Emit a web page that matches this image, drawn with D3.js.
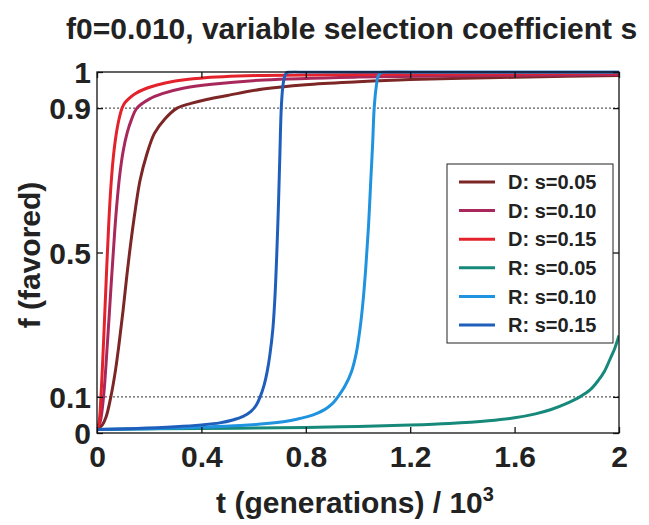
<!DOCTYPE html>
<html>
<head>
	<meta charset="utf-8" />
	<title>f0=0.010, variable selection coefficient s</title>
	<script src="https://cdn.jsdelivr.net/npm/d3@7/dist/d3.min.js"></script>
	<style>
		html, body { margin: 0; background: #fff; overflow: hidden; }
		svg text { font-family: "Liberation Sans", Arial, sans-serif; font-weight: bold; fill: #222; }
	</style>
</head>
<body>
<div id="chart"></div>
<script>
// t in units of 10^3 generations, f = frequency of favored allele
var dom05 = [[0,0.01],[0.02,0.022],[0.035,0.045],[0.053,0.1],[0.07,0.17],[0.085,0.25],[0.1,0.34],[0.115,0.44],[0.13,0.53],[0.147,0.62],[0.165,0.7],[0.19,0.77],[0.22,0.83],[0.26,0.87],[0.307,0.9],[0.36,0.913],[0.42,0.924],[0.5,0.935],[0.636,0.953],[0.8,0.965],[1.0,0.973],[1.2,0.979],[1.5,0.984],[1.8,0.988],[2.0,0.99]];
var dom10 = [[0,0.01],[0.012,0.03],[0.025,0.1],[0.04,0.25],[0.055,0.42],[0.068,0.56],[0.078,0.65],[0.088,0.72],[0.1,0.78],[0.115,0.83],[0.132,0.868],[0.153,0.9],[0.2,0.925],[0.25,0.94],[0.33,0.955],[0.44,0.966],[0.64,0.978],[1.0,0.986],[1.5,0.99],[2.0,0.993]];
var dom15 = [[0,0.01],[0.008,0.03],[0.015,0.1],[0.025,0.25],[0.035,0.42],[0.045,0.58],[0.053,0.68],[0.062,0.76],[0.072,0.82],[0.083,0.865],[0.096,0.9],[0.107,0.915],[0.12,0.925],[0.146,0.94],[0.19,0.955],[0.23,0.964],[0.3,0.975],[0.395,0.983],[0.61,0.99],[1.0,0.993],[1.5,0.995],[2.0,0.997]];
var rec05 = [[0,0.01],[0.4,0.0125],[0.8,0.0155],[1.0,0.018],[1.2,0.022],[1.35,0.0265],[1.5,0.034],[1.6,0.042],[1.68,0.053],[1.74,0.065],[1.8,0.082],[1.85,0.1],[1.89,0.12],[1.92,0.145],[1.945,0.172],[1.966,0.205],[1.984,0.235],[2.0,0.27]];
var rec10 = [[0,0.01],[0.2,0.012],[0.4,0.016],[0.55,0.0205],[0.65,0.026],[0.72,0.032],[0.77,0.039],[0.81,0.046],[0.845,0.055],[0.87,0.064],[0.89,0.074],[0.907,0.085],[0.923,0.1],[0.95,0.13],[0.975,0.17],[0.993,0.22],[1.008,0.29],[1.02,0.37],[1.03,0.46],[1.04,0.57],[1.049,0.7],[1.056,0.8],[1.062,0.9],[1.07,0.96],[1.078,0.99],[1.088,0.998],[1.1,1],[1.2,1],[1.5,1],[2,1]];
var rec15 = [[0,0.01],[0.15,0.0127],[0.3,0.0175],[0.4,0.0225],[0.47,0.028],[0.52,0.036],[0.56,0.046],[0.59,0.06],[0.61,0.077],[0.625,0.1],[0.64,0.132],[0.652,0.17],[0.663,0.22],[0.674,0.29],[0.682,0.38],[0.689,0.5],[0.696,0.65],[0.701,0.78],[0.706,0.9],[0.712,0.96],[0.718,0.985],[0.726,0.998],[0.74,1],[0.8,1],[1.0,1],[2,1]];

var labels = ["D: s=0.05", "D: s=0.10", "D: s=0.15", "R: s=0.05", "R: s=0.10", "R: s=0.15"];
var colors = ["#7d2626", "#a8285c", "#e3222b", "#17897a", "#1f93df", "#1f5fbb"];
var xTicks = [0, 0.4, 0.8, 1.2, 1.6, 2];
var yTicks = [0, 0.1, 0.5, 0.9, 1];
var gridLevels = [0.1, 0.9];

var series = [dom05, dom10, dom15, rec05, rec10, rec15];

var W = 649, H = 525;
var pL = 97, pR = 619, pT = 72, pB = 433;

var svg = d3.select("#chart").append("svg").attr("width", W).attr("height", H);

var x = d3.scaleLinear().domain([0, 2]).range([pL, pR]);
var y = d3.scaleLinear().domain([0, 1]).range([pB, pT]);

svg.append("clipPath").attr("id", "plotclip").append("rect")
	.attr("x", pL).attr("y", pT - 1.5).attr("width", pR - pL).attr("height", pB - pT + 3);

// title
svg.append("text").attr("x", 66).attr("y", 39).style("font-size", "30px")
	.text("f0=0.010, variable selection coefficient s");

// dotted reference lines
svg.selectAll(".grid").data(gridLevels).enter().append("line")
	.attr("x1", pL).attr("x2", pR)
	.attr("y1", d => y(d)).attr("y2", d => y(d))
	.attr("stroke", "#333").attr("stroke-width", 1).attr("stroke-dasharray", "2,2");

// curves
var line = d3.line().x(d => x(d[0])).y(d => y(d[1])).curve(d3.curveCatmullRom.alpha(0.5));
svg.append("g").attr("clip-path", "url(#plotclip)")
	.selectAll(".curve").data(series).enter().append("path")
	.attr("d", line)
	.attr("fill", "none")
	.attr("stroke", (d, i) => colors[i])
	.attr("stroke-width", 3)
	.attr("stroke-linejoin", "round");

// box + inner ticks (matlab style, mirrored)
svg.append("rect").attr("x", pL).attr("y", pT).attr("width", pR - pL).attr("height", pB - pT)
	.attr("fill", "none").attr("stroke", "#111").attr("stroke-width", 1.3);

var tl = 6;
var xb = svg.append("g").attr("transform", "translate(0," + pB + ")")
	.call(d3.axisBottom(x).tickValues(xTicks).tickSize(-tl).tickFormat(d3.format("")).tickPadding(12));
var xt = svg.append("g").attr("transform", "translate(0," + pT + ")")
	.call(d3.axisTop(x).tickValues(xTicks).tickSize(-tl).tickFormat(""));
var yl = svg.append("g").attr("transform", "translate(" + pL + ",0)")
	.call(d3.axisLeft(y).tickValues(yTicks).tickSize(-tl).tickFormat(d3.format("")).tickPadding(6));
var yr = svg.append("g").attr("transform", "translate(" + pR + ",0)")
	.call(d3.axisRight(y).tickValues(yTicks).tickSize(-tl).tickFormat(""));

[xb, xt, yl, yr].forEach(function (g) {
	g.select(".domain").remove();
	g.selectAll("line").attr("stroke", "#111").attr("stroke-width", 1.3);
	g.selectAll("text").style("font-size", "30px").style("font-family", "'Liberation Sans', Arial, sans-serif")
		.style("font-weight", "bold").attr("fill", "#222");
});
xb.selectAll("text").attr("dy", "0.72em");
yl.selectAll("text").attr("dy", "0.36em");

// axis labels
var xlab = svg.append("text").attr("x", 355).attr("y", 513).attr("text-anchor", "middle").style("font-size", "30px");
xlab.append("tspan").text("t (generations) / 10");
xlab.append("tspan").attr("dy", -12).style("font-size", "20px").text("3");

svg.append("text").attr("transform", "translate(40,255) rotate(-90)")
	.attr("text-anchor", "middle").style("font-size", "30px").text("f (favored)");

// legend
var lg = svg.append("g");
lg.append("rect").attr("x", 447).attr("y", 164).attr("width", 166).attr("height", 179)
	.attr("fill", "#fff").attr("stroke", "#222").attr("stroke-width", 1);
var rows = lg.selectAll(".row").data(labels).enter().append("g")
	.attr("transform", (d, i) => "translate(0," + (182 + i * 28.6) + ")");
rows.append("line").attr("x1", 459).attr("x2", 495).attr("y1", 0).attr("y2", 0)
	.attr("stroke", (d, i) => colors[i]).attr("stroke-width", 3);
rows.append("text").attr("x", 508).attr("dy", "0.36em").style("font-size", "20px").text(d => d);
</script>
</body>
</html>
